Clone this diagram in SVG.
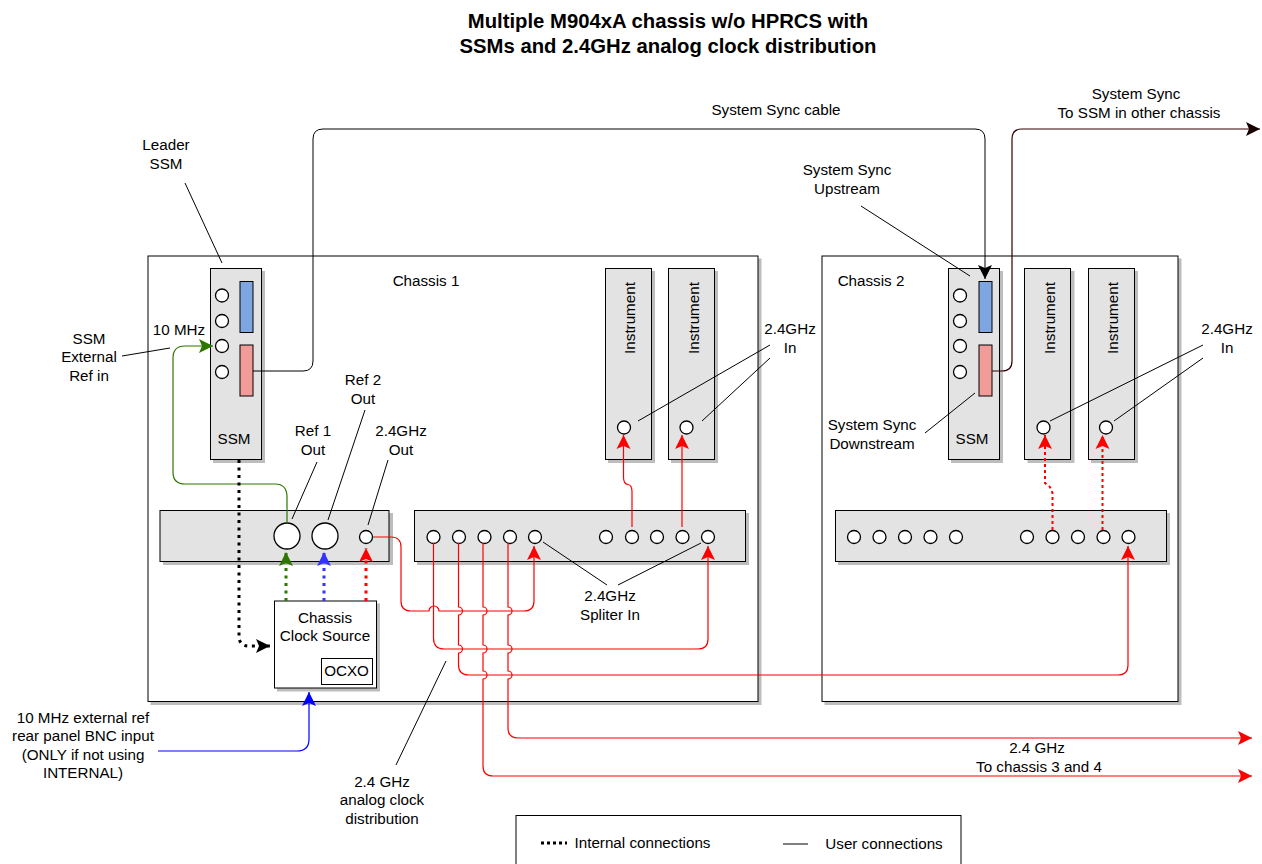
<svg xmlns="http://www.w3.org/2000/svg" width="1262" height="864" viewBox="0 0 1262 864">
<style>
text{font-family:"Liberation Sans",Arial,sans-serif;font-size:15.2px;fill:#000;text-anchor:middle}
.t{font-weight:bold;font-size:20.3px}
.box{stroke:#000;stroke-width:1;fill:#e3e3e3}
.sh{fill:#bdbdbd;stroke:#bdbdbd;stroke-width:1}
.p{fill:#fff;stroke:#000;stroke-width:1.3}
.l{fill:none;stroke:#000;stroke-width:1}
.r{fill:none;stroke:#ff0000;stroke-width:1.2}
.rd{fill:none;stroke:#ff0000;stroke-width:2;stroke-dasharray:3 3}
.dot{fill:none;stroke-width:3;stroke-dasharray:3 4.5}
</style>
<defs>
<marker id="ar" markerUnits="userSpaceOnUse" markerWidth="15" markerHeight="15" refX="14" refY="7.500" orient="auto"><path d="M0 0.500L14 7.500L0 14.500L3 7.500Z" fill="#ff0000"/></marker>
<marker id="ak" markerUnits="userSpaceOnUse" markerWidth="15" markerHeight="15" refX="14" refY="7.500" orient="auto"><path d="M0 0.500L14 7.500L0 14.500L3 7.500Z" fill="#000"/></marker>
<marker id="am" markerUnits="userSpaceOnUse" markerWidth="15" markerHeight="15" refX="14" refY="7.500" orient="auto"><path d="M0 0.500L14 7.500L0 14.500L3 7.500Z" fill="#190000"/></marker>
<marker id="ag" markerUnits="userSpaceOnUse" markerWidth="15" markerHeight="15" refX="14" refY="7.500" orient="auto"><path d="M0 0.500L14 7.500L0 14.500L3 7.500Z" fill="#2d7600"/></marker>
<marker id="ab" markerUnits="userSpaceOnUse" markerWidth="15" markerHeight="15" refX="14" refY="7.500" orient="auto"><path d="M0 0.500L14 7.500L0 14.500L3 7.500Z" fill="#0000ff"/></marker>
<marker id="abl" markerUnits="userSpaceOnUse" markerWidth="15" markerHeight="15" refX="14" refY="7.500" orient="auto"><path d="M0 0.500L14 7.500L0 14.500L3 7.500Z" fill="#3333ff"/></marker>
</defs>
<rect width="1262" height="864" fill="#fff"/>
<g id="title"><text class="t" x="668" y="28">Multiple M904xA chassis w/o HPRCS with</text><text class="t" x="668" y="53">SSMs and 2.4GHz analog clock distribution</text></g>

<g id="chassis1"><rect class="sh" x="151" y="259" width="610" height="445.500"/><rect x="148" y="256" width="610" height="445.500" fill="#fff" stroke="#000"/><text x="426" y="286">Chassis 1</text></g>
<g id="chassis2"><rect class="sh" x="825" y="259" width="356" height="445.500"/><rect x="822" y="256" width="356" height="445.500" fill="#fff" stroke="#000"/><text x="871" y="286">Chassis 2</text></g>

<g id="ssm1"><rect class="sh" x="213.5" y="271.5" width="51" height="191"/><rect class="box" x="210.5" y="268.5" width="51" height="191"/>
<circle class="p" cx="222" cy="295.500" r="6.500"/><circle class="p" cx="222" cy="321" r="6.500"/><circle class="p" cx="222" cy="346" r="6.500"/><circle class="p" cx="222" cy="372" r="6.500"/>
<rect x="240" y="281.500" width="13" height="51" fill="#7ea6e0" stroke="#000"/><rect x="240" y="345" width="13" height="51" fill="#f19c99" stroke="#000"/><text x="234" y="444">SSM</text></g>
<g id="ssm2"><rect class="sh" x="951.5" y="271.5" width="51" height="191"/><rect class="box" x="948.5" y="268.5" width="51" height="191"/>
<circle class="p" cx="960" cy="295.500" r="6.500"/><circle class="p" cx="960" cy="321" r="6.500"/><circle class="p" cx="960" cy="346" r="6.500"/><circle class="p" cx="960" cy="372" r="6.500"/>
<rect x="979" y="281.500" width="13" height="51" fill="#7ea6e0" stroke="#000"/><rect x="979" y="345" width="13" height="51" fill="#f19c99" stroke="#000"/><text x="972" y="444">SSM</text></g>

<g id="inst1"><rect class="sh" x="608.5" y="271.5" width="46" height="191"/><rect class="box" x="605.5" y="268.5" width="46" height="191"/><text transform="translate(635 318) rotate(-90)">Instrument</text><circle class="p" cx="624" cy="427.500" r="6.500"/></g>
<g id="inst2"><rect class="sh" x="671.5" y="271.5" width="46" height="191"/><rect class="box" x="668.500" y="268.5" width="46" height="191"/><text transform="translate(699 318) rotate(-90)">Instrument</text><circle class="p" cx="686.500" cy="427.500" r="6.500"/></g>
<g id="inst3"><rect class="sh" x="1028" y="271.5" width="46" height="191"/><rect class="box" x="1024.500" y="268.5" width="46" height="191"/><text transform="translate(1055 318) rotate(-90)">Instrument</text><circle class="p" cx="1043.500" cy="427.500" r="6.500"/></g>
<g id="inst4"><rect class="sh" x="1091.500" y="271.5" width="46" height="191"/><rect class="box" x="1088.500" y="268.5" width="46" height="191"/><text transform="translate(1118 318) rotate(-90)">Instrument</text><circle class="p" cx="1106" cy="427.500" r="6.500"/></g>

<g id="panel"><rect class="sh" x="163.500" y="513.500" width="229" height="51"/><rect class="box" x="160" y="510.500" width="229" height="51"/>
<circle class="p" cx="287" cy="536" r="13"/><circle class="p" cx="325" cy="536" r="13"/><circle class="p" cx="366" cy="537" r="6.500"/></g>
<g id="splitter1"><rect class="sh" x="417.500" y="513.500" width="331" height="51"/><rect class="box" x="414.500" y="510.500" width="331" height="51"/>
<circle class="p" cx="433.500" cy="537" r="6.500"/><circle class="p" cx="459" cy="537" r="6.500"/><circle class="p" cx="484.500" cy="537" r="6.500"/><circle class="p" cx="510" cy="537" r="6.500"/><circle class="p" cx="535" cy="537" r="6.500"/>
<circle class="p" cx="606" cy="537" r="6.500"/><circle class="p" cx="632" cy="537" r="6.500"/><circle class="p" cx="657" cy="537" r="6.500"/><circle class="p" cx="682.500" cy="537" r="6.500"/><circle class="p" cx="708" cy="537" r="6.500"/></g>
<g id="splitter2"><rect class="sh" x="838.500" y="513.500" width="331" height="51"/><rect class="box" x="835.500" y="510.500" width="331" height="51"/>
<circle class="p" cx="854" cy="537" r="6.500"/><circle class="p" cx="879.500" cy="537" r="6.500"/><circle class="p" cx="905" cy="537" r="6.500"/><circle class="p" cx="930.500" cy="537" r="6.500"/><circle class="p" cx="956" cy="537" r="6.500"/>
<circle class="p" cx="1027" cy="537" r="6.500"/><circle class="p" cx="1052.500" cy="537" r="6.500"/><circle class="p" cx="1078" cy="537" r="6.500"/><circle class="p" cx="1103.500" cy="537" r="6.500"/><circle class="p" cx="1128.500" cy="537" r="6.500"/></g>
<g id="clock"><rect class="sh" x="277.500" y="604" width="102" height="87"/><rect x="274.500" y="601" width="102" height="87" fill="#fff" stroke="#000"/><text x="325" y="623">Chassis</text><text x="325" y="641">Clock Source</text>
<rect x="321.500" y="658.500" width="51" height="26" fill="#fff" stroke="#000"/><text x="346.500" y="676">OCXO</text></g>

<g id="connectors">
<path class="l" d="M253 371H303Q313 371 313 361V139Q313 129 323 129H975Q985 129 985 139V279" marker-end="url(#ak)"/>
<path d="M992 371H1002Q1012 371 1012 361V139Q1012 129 1022 129H1260" fill="none" stroke="#330000" stroke-width="1.200" marker-end="url(#am)"/>
<path d="M287 523V497Q287 484 275 484H185Q173 484 173 472V358Q173 346 185 346H213" fill="none" stroke="#2d7600" stroke-width="1.200" marker-end="url(#ag)"/>
<path class="dot" d="M239 460V636Q239 646 249 646H270" stroke="#000" marker-end="url(#ak)"/>
<path class="dot" d="M286 601V552" stroke="#2d7600" marker-end="url(#ag)"/>
<path class="dot" d="M324 601V552" stroke="#3333ff" marker-end="url(#abl)"/>
<path class="dot" d="M366 601V548" stroke="#ff0000" marker-end="url(#ar)"/>
<path d="M158 751H297Q309 751 309 739V692" fill="none" stroke="#0000ff" stroke-width="1.200" marker-end="url(#ab)"/>
<path class="r" d="M632 527V492Q632 485 628 484.500Q623.500 484 623.500 477V435" marker-end="url(#ar)"/>
<path class="r" d="M682 527V435" marker-end="url(#ar)"/>
<path class="rd" d="M1052.500 530V493L1050 487L1045 483V435" marker-end="url(#ar)"/>
<path class="rd" d="M1102.500 530V435" marker-end="url(#ar)"/>
<path class="r" d="M373 537H391Q401 537 401 547V601Q401 611 411 611H429A5 5 0 0 1 439 611H524Q534 611 534 601V546" marker-end="url(#ar)"/>
<path class="r" d="M433.500 543V638Q433.500 649 444 649H698Q708 649 708 639V546" marker-end="url(#ar)"/>
<path class="r" d="M458.500 543V607A4 4 0 0 1 458.500 615V645A4 4 0 0 1 458.500 653V665Q458.500 675 469 675H1118Q1128 675 1128 665V546" marker-end="url(#ar)"/>
<path class="r" d="M483 543V607A4 4 0 0 1 483 615V645A4 4 0 0 1 483 653V671A4 4 0 0 1 483 679V766Q483 776 493 776H1252" marker-end="url(#ar)"/>
<path class="r" d="M508 543V607A4 4 0 0 1 508 615V645A4 4 0 0 1 508 653V671A4 4 0 0 1 508 679V728Q508 738 518 738H1252" marker-end="url(#ar)"/>
</g>

<g id="callouts">
<path class="l" d="M185 183L222 263M122 356L170 348M292 519L317 462M328 520L365 410M368 525L388 460M543 542L607 585M701 543L618 585M446 661L396 765M638 421L770 345M702 421L770 358M861 206L970 276M925 433L975 393M1050 421L1203 345M1114 421L1203 358"/>
</g>

<g id="labels">
<text x="166" y="150">Leader</text><text x="166" y="169">SSM</text>
<text x="89" y="344">SSM</text><text x="89" y="362">External</text><text x="89" y="381">Ref in</text>
<text x="179" y="335">10 MHz</text>
<text x="313" y="436">Ref 1</text><text x="313" y="455">Out</text>
<text x="363" y="385">Ref 2</text><text x="363" y="404">Out</text>
<text x="401" y="436">2.4GHz</text><text x="401" y="455">Out</text>
<text x="610" y="601">2.4GHz</text><text x="610" y="620">Spliter In</text>
<text x="790" y="334">2.4GHz</text><text x="790" y="353">In</text>
<text x="1227" y="334">2.4GHz</text><text x="1227" y="353">In</text>
<text x="776" y="115">System Sync cable</text>
<text x="1136" y="99">System Sync</text><text x="1139" y="118">To SSM in other chassis</text>
<text x="847" y="175">System Sync</text><text x="847" y="194">Upstream</text>
<text x="872" y="430">System Sync</text><text x="872" y="449">Downstream</text>
<text x="83" y="723">10 MHz external ref</text><text x="83" y="741">rear panel BNC input</text><text x="83" y="760">(ONLY if not using</text><text x="83" y="778">INTERNAL)</text>
<text x="382" y="787">2.4 GHz</text><text x="382" y="805">analog clock</text><text x="382" y="824">distribution</text>
<text x="1037" y="753">2.4 GHz</text><text x="1039" y="772">To chassis 3 and 4</text>
</g>

<g id="legend"><rect x="516" y="815.500" width="445" height="60" fill="#fff" stroke="#000"/>
<path d="M541 843H567" fill="none" stroke="#000" stroke-width="3" stroke-dasharray="3 3"/><text x="642.500" y="848">Internal connections</text>
<path class="l" d="M783 844H808"/><text x="884" y="849">User connections</text></g>
</svg>
